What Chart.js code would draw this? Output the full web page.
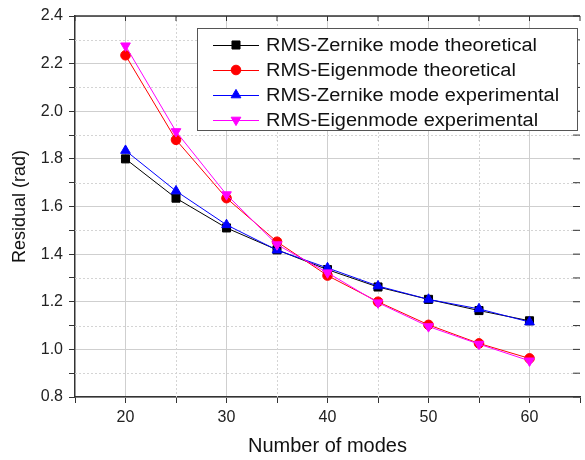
<!DOCTYPE html>
<html>
<head>
<meta charset="utf-8">
<script src="https://cdn.jsdelivr.net/npm/chart.js@4/dist/chart.umd.min.js"></script>
<style>
  html, body { margin: 0; padding: 0; background: #fff; }
  #wrap { width: 585px; height: 460px; }
</style>
</head>
<body>
<div id="wrap"><canvas id="myChart" width="585" height="460"></canvas></div>
<script>
// data
var modes = [20, 25, 30, 35, 40, 45, 50, 55, 60];
var zernikeTheo = [1.80, 1.635, 1.51, 1.418, 1.335, 1.262, 1.21, 1.163, 1.12];
var eigenTheo   = [2.235, 1.88, 1.635, 1.452, 1.31, 1.20, 1.103, 1.025, 0.962];
var zernikeExp  = [1.835, 1.665, 1.523, 1.417, 1.342, 1.266, 1.21, 1.17, 1.115];
var eigenExp    = [2.275, 1.915, 1.65, 1.44, 1.322, 1.196, 1.096, 1.022, 0.952];
var labels = ['RMS-Zernike mode theoretical', 'RMS-Eigenmode theoretical',
              'RMS-Zernike mode experimental', 'RMS-Eigenmode experimental'];

function pts(ys) {
    return modes.map(function (m, i) { return { x: m, y: ys[i] }; });
}

var font = 'Liberation Sans, Arial, sans-serif';

// dotted minor grid, top frame line, inner ticks on top/right
var framePlugin = {
    id: 'frame',
    beforeDatasetsDraw: function (chart) {
        var ctx = chart.ctx, a = chart.chartArea;
        var xs = chart.scales.x, ys = chart.scales.y;
        ctx.save();
        ctx.strokeStyle = '#d4d4d4';
        ctx.lineWidth = 1;
        ctx.setLineDash([2, 2]);
        xs.ticks.forEach(function (t) {
            if (t.value % 10 !== 0 && t.value > xs.min && t.value < xs.max) {
                var px = Math.round(xs.getPixelForValue(t.value)) + 0.5;
                ctx.beginPath(); ctx.moveTo(px, a.top); ctx.lineTo(px, a.bottom); ctx.stroke();
            }
        });
        ys.ticks.forEach(function (t) {
            var k = Math.round(t.value * 10);
            if (k % 2 !== 0) {
                var py = Math.round(ys.getPixelForValue(t.value)) + 0.5;
                ctx.beginPath(); ctx.moveTo(a.left, py); ctx.lineTo(a.right, py); ctx.stroke();
            }
        });
        ctx.restore();
    },
    afterDraw: function (chart) {
        var ctx = chart.ctx, a = chart.chartArea;
        var xs = chart.scales.x, ys = chart.scales.y;
        ctx.save();
        ctx.strokeStyle = '#333';
        ctx.lineWidth = 1.5;
        ctx.beginPath(); ctx.moveTo(a.left, a.top); ctx.lineTo(a.right, a.top); ctx.stroke();
        ctx.lineWidth = 1;
        xs.ticks.forEach(function (t) {
            var px = xs.getPixelForValue(t.value);
            ctx.beginPath(); ctx.moveTo(px, a.top); ctx.lineTo(px, a.top + 5); ctx.stroke();
        });
        ys.ticks.forEach(function (t) {
            var py = ys.getPixelForValue(t.value);
            ctx.beginPath(); ctx.moveTo(a.right - 7, py); ctx.lineTo(a.right, py); ctx.stroke();
        });
        ctx.restore();
    }
};

// boxed legend inside the plot
var legendPlugin = {
    id: 'boxLegend',
    afterDraw: function (chart) {
        var ctx = chart.ctx;
        var bx = 197, by = 28, bw = 380, bh = 102;
        ctx.save();
        ctx.fillStyle = '#fff';
        ctx.fillRect(bx, by, bw, bh);
        ctx.strokeStyle = '#555';
        ctx.lineWidth = 1;
        ctx.strokeRect(bx + 0.5, by + 0.5, bw, bh);
        chart.data.datasets.forEach(function (ds, i) {
            var cy = by + 17 + i * 25;
            ctx.strokeStyle = ds.borderColor;
            ctx.lineWidth = 1;
            ctx.beginPath(); ctx.moveTo(213, cy + 0.5); ctx.lineTo(259, cy + 0.5); ctx.stroke();
            ctx.fillStyle = ds.pointBackgroundColor;
            ctx.strokeStyle = ds.pointBorderColor;
            Chart.helpers.drawPoint(ctx, {
                pointStyle: ds.pointStyle, rotation: ds.pointRotation || 0,
                radius: ds.pointRadius, borderWidth: 1
            }, 236, cy);
            // the source figure is slightly stretched sideways
            ctx.save();
            ctx.translate(266, cy + 1);
            ctx.scale(1.11, 1);
            ctx.fillStyle = '#111';
            ctx.font = '18px ' + font;
            ctx.textBaseline = 'middle';
            ctx.textAlign = 'left';
            ctx.fillText(ds.label, 0, 0);
            ctx.restore();
        });
        ctx.restore();
    }
};

function series(label, ys, color, style, radius, rot, order) {
    return {
        label: label,
        data: pts(ys),
        borderColor: color,
        backgroundColor: color,
        pointBackgroundColor: color,
        pointBorderColor: color,
        pointStyle: style,
        pointRadius: radius,
        pointRotation: rot,
        pointBorderWidth: 1,
        borderWidth: 1,
        tension: 0,
        order: order
    };
}

var ctx1 = document.getElementById('myChart').getContext('2d');
var chart = new Chart(ctx1, {
    type: 'line',
    data: {
        datasets: [
            series(labels[0], zernikeTheo, '#000000', 'rect', 5.7, 0, 4),
            series(labels[1], eigenTheo, '#ff0000', 'circle', 4.8, 0, 3),
            series(labels[2], zernikeExp, '#0000ff', 'triangle', 5.6, 0, 2),
            series(labels[3], eigenExp, '#ff00ff', 'triangle', 5.6, 180, 1)
        ]
    },
    options: {
        responsive: false,
        animation: false,
        layout: { autoPadding: false, padding: { top: 16, right: 0, left: 0, bottom: 0 } },
        plugins: {
            legend: { display: false },
            tooltip: { enabled: false }
        },
        scales: {
            x: {
                type: 'linear',
                min: 15,
                max: 65,
                // major ticks every 10, minor every 5
                afterBuildTicks: function (s) {
                    var t = [];
                    for (var v = 15; v <= s.max; v += 5) t.push({ value: v });
                    s.ticks = t;
                },
                afterFit: function (s) { s.height = 63; },
                ticks: {
                    autoSkip: false,
                    maxRotation: 0,
                    padding: 5,
                    color: '#222',
                    font: { family: font, size: 16 },
                    callback: function (v) { return v % 10 === 0 ? String(v) : ''; }
                },
                grid: {
                    color: function (c) { return c.tick && c.tick.value % 10 === 0 ? '#cfcfcf' : 'rgba(0,0,0,0)'; },
                    tickColor: '#333',
                    tickLength: 6
                },
                border: { color: '#333', width: 1.5 },
                title: {
                    display: true,
                    text: 'Number of modes',
                    color: '#111',
                    font: { family: font, size: 20 },
                    padding: { top: 0, bottom: 2 }
                }
            },
            y: {
                min: 0.8,
                max: 2.4,
                afterFit: function (s) { s.width = 75; },
                ticks: {
                    stepSize: 0.1,
                    autoSkip: false,
                    padding: 6,
                    color: '#222',
                    font: { family: font, size: 16 },
                    callback: function (v) { return Math.round(v * 10) % 2 === 0 ? v.toFixed(1) : ''; }
                },
                grid: {
                    color: function (c) { return c.tick && Math.round(c.tick.value * 10) % 2 === 0 ? '#cfcfcf' : 'rgba(0,0,0,0)'; },
                    tickColor: '#333',
                    tickLength: 6
                },
                border: { color: '#333', width: 1.5 },
                title: {
                    display: true,
                    text: 'Residual (rad)',
                    color: '#111',
                    font: { family: font, size: 18 },
                    padding: { top: 9, bottom: 0 }
                }
            }
        }
    },
    plugins: [framePlugin, legendPlugin]
});
</script>
</body>
</html>
